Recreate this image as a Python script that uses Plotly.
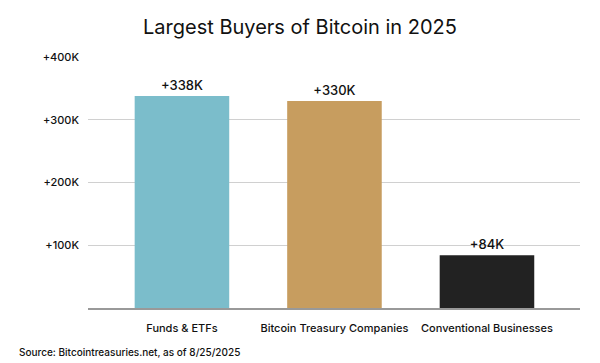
import plotly.graph_objects as go

categories = ["Funds & ETFs", "Bitcoin Treasury Companies", "Conventional Businesses"]
values = [338000, 330000, 84000]
labels = ["+338K", "+330K", "+84K"]
colors = ["#7BBDCB", "#C79D5F", "#222222"]
tick_vals = [100000, 200000, 300000, 400000]
tick_text = ["+100K", "+200K", "+300K", "+400K"]

fig = go.Figure(go.Bar(
    x=categories, y=values, text=labels, textposition="outside",
    marker=dict(color=colors, line=dict(width=0)), width=0.62,
    textfont=dict(size=13, color="#111111", weight=500), cliponaxis=False,
))

fig.update_layout(
    width=600, height=363,
    margin=dict(l=88, r=20, t=57, b=55, autoexpand=False),
    paper_bgcolor="white", plot_bgcolor="white",
    font=dict(family="Inter, Roboto, sans-serif", color="#111111"),
    title=dict(text="Largest Buyers of Bitcoin in 2025", x=0.5, xanchor="center",
               y=0.925, yanchor="middle", font=dict(size=20, color="#111111")),
    showlegend=False,
)
fig.update_xaxes(range=[-0.616, 2.61], showgrid=False, showline=True, linecolor="#999999",
                 linewidth=1.5, ticks="", automargin=False, ticklabelstandoff=9,
                 tickfont=dict(size=11, color="#111111", weight=500))
fig.update_yaxes(range=[0, 400000], tickvals=tick_vals, ticktext=tick_text, showgrid=True,
                 gridcolor="#D0D0D0", gridwidth=1, zeroline=False, showline=False,
                 ticks="", ticklabelstandoff=8, automargin=False,
                 tickfont=dict(size=11, color="#111111", weight=500))

fig.add_annotation(text="Source: Bitcointreasuries.net, as of 8/25/2025", xref="paper", yref="paper",
                   x=-0.145, y=-0.177, xanchor="left", yanchor="middle", showarrow=False,
                   font=dict(size=10, color="#111111", weight=500))

fig.write_html("out.html", config={"displayModeBar": False},
               post_script="document.body.style.margin='0';document.body.style.overflow='hidden';")
